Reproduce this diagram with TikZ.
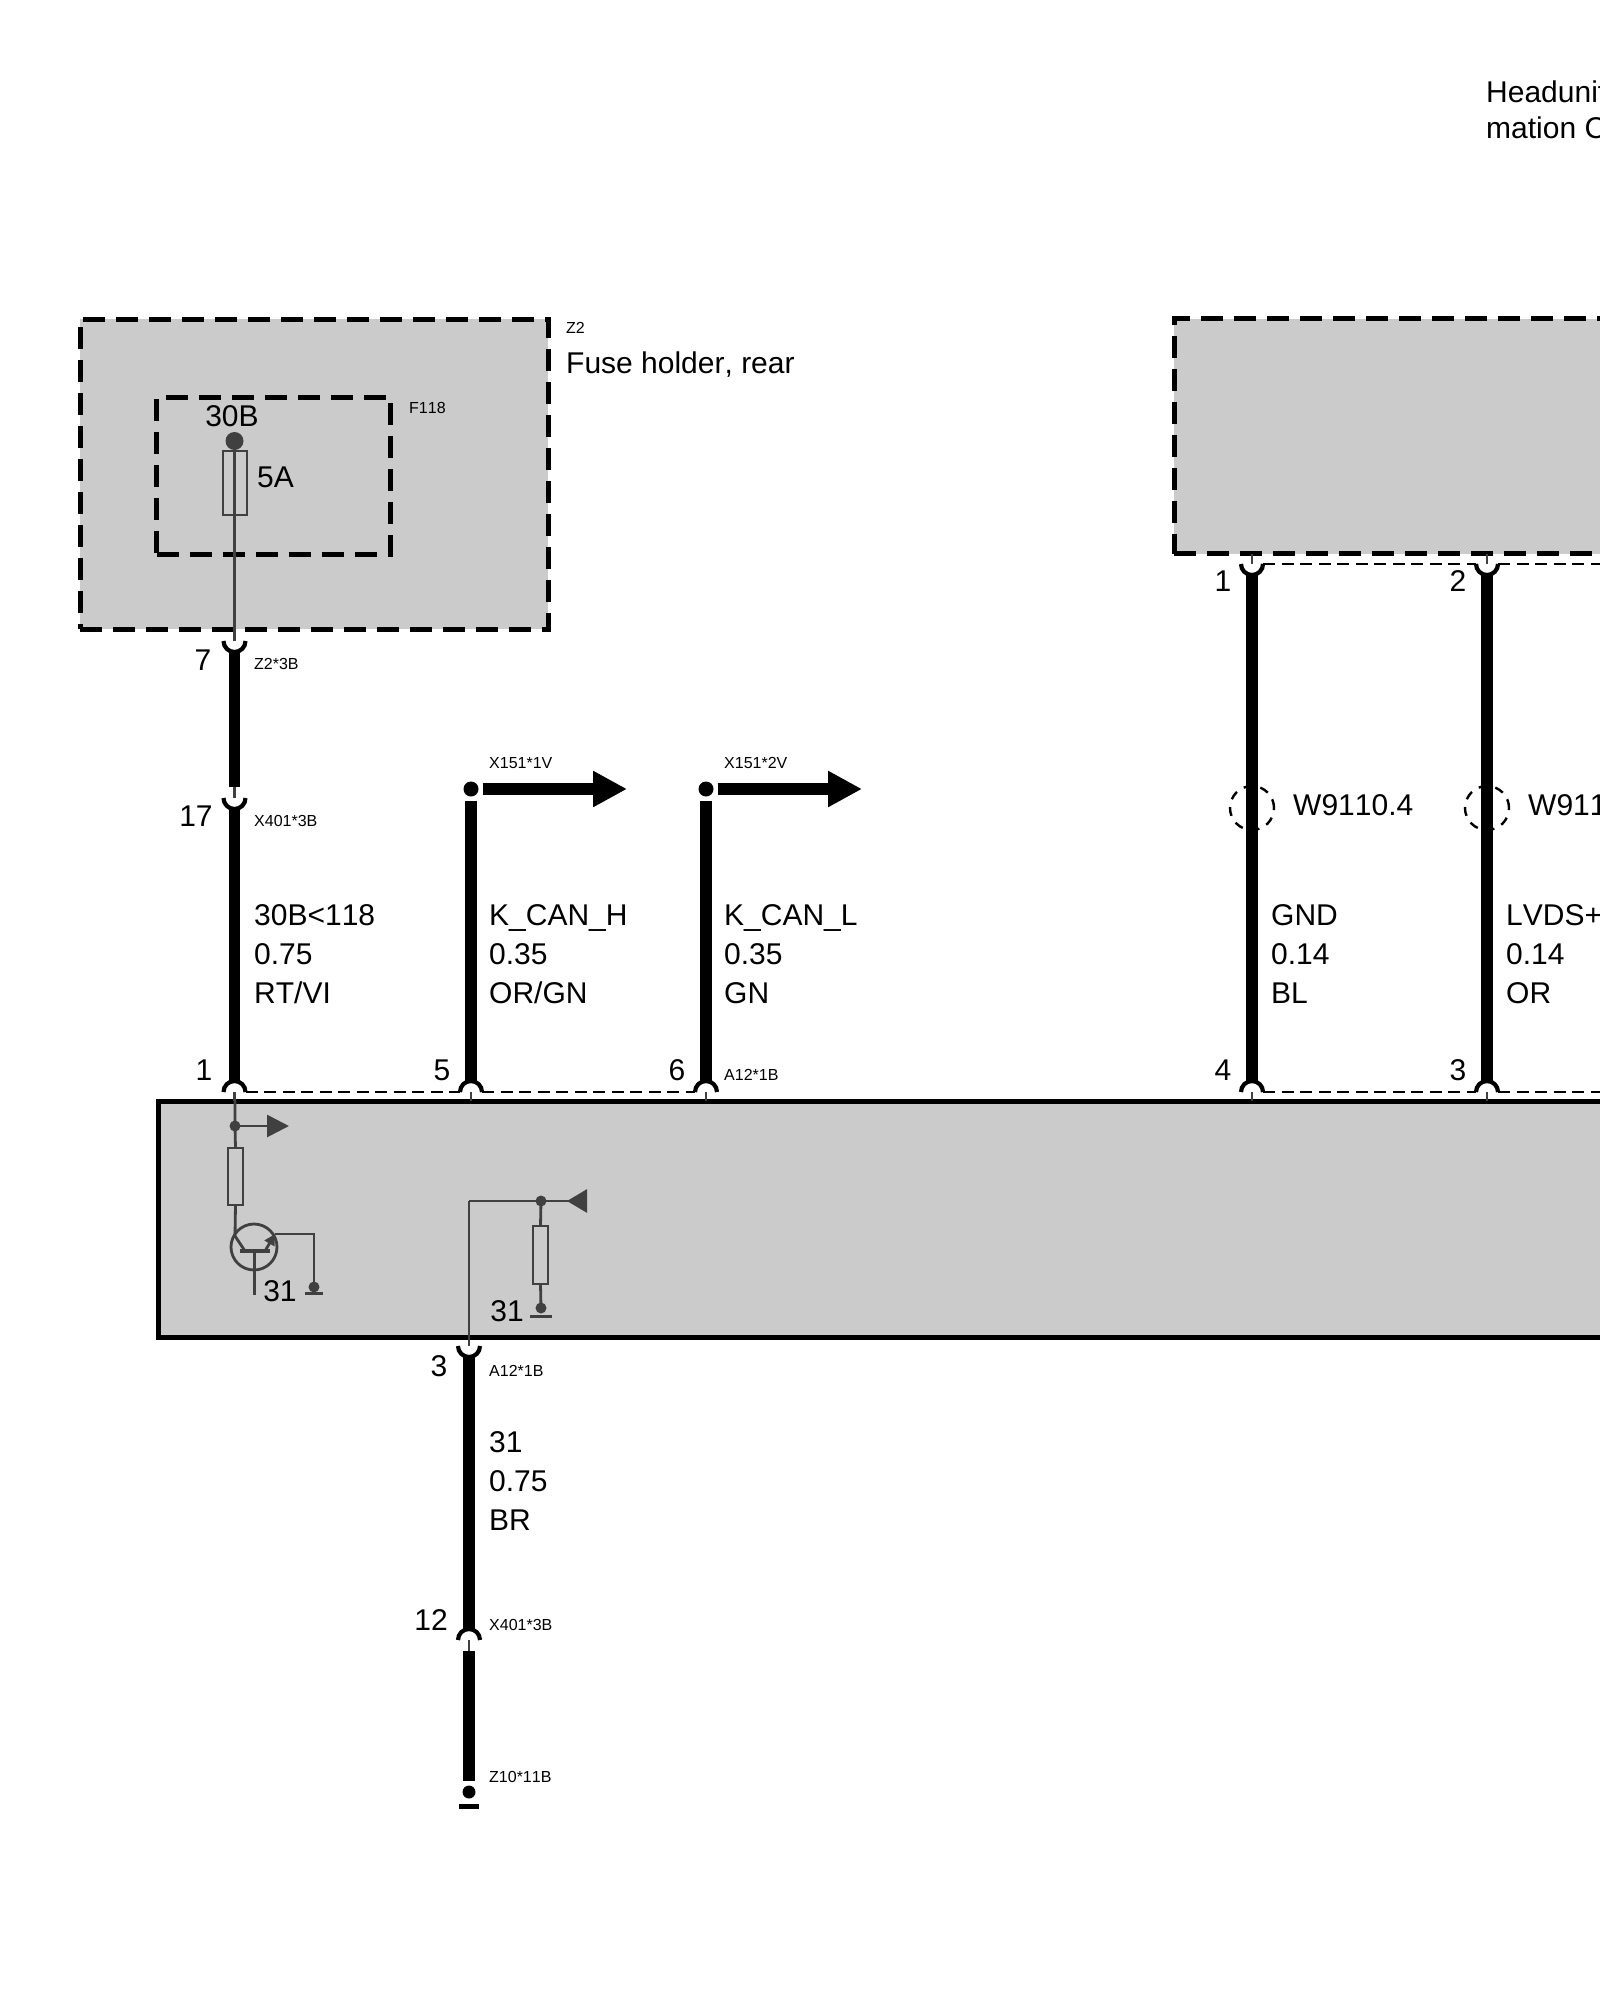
\documentclass[tikz,border=0pt]{standalone}
\usepackage{fontspec}
\setmainfont[Kerning=Off]{Liberation Sans}
\usetikzlibrary{arrows.meta,positioning}
\definecolor{boxgray}{HTML}{CBCBCB}
\definecolor{thingray}{HTML}{404040}
\tikzset{
  solidbox/.style={rectangle,draw=black,fill=boxgray,line width=5pt,inner sep=0pt,outer sep=0pt},
  dashbox/.style={solidbox,dash pattern=on 22pt off 11pt},
  innerbox/.style={rectangle,draw=black,line width=5pt,inner sep=0pt,outer sep=0pt,dash pattern=on 22pt off 11pt},
  part/.style={rectangle,draw=thingray,line width=2.8pt,inner sep=0pt,outer sep=0pt},
  pinnode/.style={circle,minimum size=22pt,inner sep=0pt,outer sep=0pt},
  shield/.style={circle,minimum size=44pt,inner sep=0pt,draw=black,line width=2.4pt,dash pattern=on 9pt off 8pt},
  bigdot/.style={circle,fill=black,minimum size=15pt,inner sep=0pt,outer sep=4pt},
  smalldot/.style={circle,fill=thingray,minimum size=11pt,inner sep=0pt,outer sep=0pt},
  gndbar/.style={rectangle,fill=thingray,minimum height=3pt,inner sep=0pt},
  wire/.style={line width=11.5pt,draw=black},
  thinwire/.style={line width=2.8pt,draw=thingray},
  cup/.style={line width=4.2pt,draw=black},
  bus/.style={line width=2.8pt,draw=black,dash pattern=on 12pt off 6.5pt},
  bigtext/.style={font=\fontsize{30}{39}\selectfont,inner sep=0pt,anchor=base west},
  pintext/.style={font=\fontsize{30}{30}\selectfont,inner sep=0pt,anchor=base},
  tagtext/.style={font=\fontsize{16}{16}\selectfont,inner sep=0pt,anchor=base west},
  sigtext/.style={font=\fontsize{30}{39}\selectfont,inner sep=0pt,anchor=west,align=left}
}
\begin{document}
\begin{tikzpicture}[x=1pt,y=-1pt]
\useasboundingbox (0,0) rectangle (1600,2000);
\clip (0,0) rectangle (1600,2000);
\node[dashbox,minimum width=468pt,minimum height=310pt] (z2) at (314,474) {};
\node[innerbox,minimum width=234pt,minimum height=157pt] (f118) at (273.5,475.5) {};
\node[dashbox,minimum width=600pt,minimum height=235pt,anchor=north west] (headbox) at (1174,318.5) {};
\node[solidbox,minimum width=1600pt,minimum height=236pt,anchor=north west] (ctrl) at (158,1101) {};
\foreach \n/\x/\y in {c7/234.5/641,c17/234.5/798,c3/469/1346,u1/1252/564,u2/1487/564}{
  \node[pinnode] (\n) at (\x,\y) {};
  \draw[cup] (\n.west) arc[start angle=180,end angle=360,radius=11pt];
}
\foreach \n/\x/\y in {c1/234.5/1092,c5/471/1092,c6/706/1092,c4/1252/1092,c2/1487/1092,c12/469/1640}{
  \node[pinnode] (\n) at (\x,\y) {};
  \draw[cup] (\n.west) arc[start angle=180,end angle=0,radius=11pt];
}
\coordinate (busa) at (1600,1092);
\coordinate (busb) at (1600,564);
\draw[bus] (c1.east) -- (c5.west);
\draw[bus] (c5.east) -- (c6.west);
\draw[bus] (c4.east) -- (c2.west);
\draw[bus] (c2.east) -- (busa);
\draw[bus] (u1.east) -- (u2.west);
\draw[bus] (u2.east) -- (busb);
\foreach \n in {c1,c5,c6,c4,c2}
  \draw[thinwire] (\n.center) -- (\n |- ctrl.north);
\foreach \n in {u1,u2}
  \draw[thinwire] (\n.center) -- (\n |- headbox.south);
\node[shield] (s1) at (1252,808) {};
\node[shield] (s2) at (1487,808) {};
% fuse
\node[smalldot,minimum size=18pt] (feed) at (234.5,441) {};
\node[part,minimum width=24pt,minimum height=64pt] (fuse) at (235,483) {};
\draw[thinwire] (feed.center) -- (c7.center);
\draw[thinwire] (c17.north) -- (c17.center);
\draw[wire] (c7.south) -- (c17.north);
\draw[wire] (c17.south) -- (c1.north);
% branch wires
\node[bigdot] (d5) at (471,789) {};
\node[bigdot] (d6) at (706,789) {};
\coordinate (t5) at (627,789);
\coordinate (t6) at (862,789);
\draw[wire] (d5.south) -- (c5.north);
\draw[wire] (d6.south) -- (c6.north);
\draw[wire,-{Triangle[length=34pt,width=34pt]}] (d5.east) -- (t5);
\draw[wire,-{Triangle[length=34pt,width=34pt]}] (d6.east) -- (t6);
\draw[wire] (u1.south) -- (c4.north);
\draw[wire] (u2.south) -- (c2.north);
% ground wire
\node[bigdot,minimum size=13pt,outer sep=5pt] (d10) at (469,1792) {};
\node[rectangle,fill=black,minimum width=20pt,minimum height=5pt,inner sep=0pt] (g10) at (469,1806) {};
\draw[thinwire] (c12.center) -- (c12.south);
\draw[wire] (c3.south) -- (c12.north);
\draw[wire] (c12.south) -- (d10.north);
% transistor stage
\node[smalldot] (j1) at (235,1126) {};
\coordinate (t1) at (289,1126);
\draw[thinwire,-{Triangle[length=22pt,width=22pt]}] (j1.center) -- (t1);
\node[part,minimum width=15pt,minimum height=57pt] (r1) at (235.5,1176.5) {};
\node[part,circle,minimum size=46pt] (tr) at (254,1247) {};
\coordinate (col) at (235,1236);
\coordinate (cole) at (245,1251);
\coordinate (bl) at (240,1251);
\coordinate (br) at (270,1251);
\coordinate (bm) at (254.5,1251);
\coordinate (bend) at (254.5,1295);
\coordinate (em) at (265,1251);
\coordinate (emo) at (275,1234);
\coordinate (eml) at (314,1234);
\node[smalldot] (g1) at (314,1287) {};
\node[gndbar,minimum width=18pt] (b1) at (314,1293) {};
\draw[thinwire] (ctrl.north -| j1) -- (j1.center) -- (r1.north);
\draw[thinwire] (r1.south) -- (col) -- (cole);
\draw[thinwire,line width=3.4pt] (bl) -- (br);
\draw[thinwire] (bm) -- (bend);
\draw[thinwire,-{Triangle[length=11pt,width=11pt]}] (em) -- (emo);
\draw[thinwire] (emo) -- (eml) -- (g1.center);
% input stage
\coordinate (cor) at (469,1201);
\coordinate (t2) at (587,1201);
\node[smalldot] (j2) at (541,1201) {};
\node[part,minimum width=15pt,minimum height=58pt] (r2) at (540.5,1255) {};
\node[smalldot] (g2) at (541,1308) {};
\node[gndbar,minimum width=22pt] (b2) at (541,1316) {};
\draw[thinwire] (c3.center) -- (cor);
\draw[thinwire,-{Triangle[reversed,length=20pt,width=23pt]}] (cor) -- (t2);
\draw[thinwire] (j2.center) -- (r2.north);
\draw[thinwire] (r2.south) -- (g2.center);
% texts
\node[bigtext] (hd1) at (1486,102) {Headunit};
\node[bigtext] (hd2) at (1486,138) {mation C};
\node[tagtext] (tz2) at (566,333) {Z2};
\node[bigtext] (tfh) at (566,373) {Fuse holder, rear};
\node[tagtext] (tf) at (409,413) {F118};
\node[pintext] (t30) at (232,426) {30B};
\node[bigtext] (t5a) at (257,487) {5A};
\node[pintext] (p7) at (203,670) {7};
\node[pintext] (p17) at (196,826) {17};
\node[pintext] (p1) at (204,1080) {1};
\node[pintext] (p5) at (442,1080) {5};
\node[pintext] (p6) at (677,1080) {6};
\node[pintext] (p4) at (1223,1080) {4};
\node[pintext] (p3) at (1458,1080) {3};
\node[pintext] (pu1) at (1223,591) {1};
\node[pintext] (pu2) at (1458,591) {2};
\node[pintext] (pb3) at (439,1376) {3};
\node[pintext] (p12) at (431,1630) {12};
\node[pintext] (t31a) at (280,1301) {31};
\node[pintext] (t31b) at (507,1321) {31};
\node[tagtext] (tc1) at (254,669) {Z2*3B};
\node[tagtext] (tc2) at (254,826) {X401*3B};
\node[tagtext] (tc3) at (489,768) {X151*1V};
\node[tagtext] (tc4) at (724,768) {X151*2V};
\node[tagtext] (tc5) at (724,1080) {A12*1B};
\node[tagtext] (tc6) at (489,1376) {A12*1B};
\node[tagtext] (tc7) at (489,1630) {X401*3B};
\node[tagtext] (tc8) at (489,1782) {Z10*11B};
\node[bigtext] (ts1) at (1293,815) {W9110.4};
\node[bigtext] (ts2) at (1528,815) {W911};
\node[sigtext] (sg1) at (254,954) {30B<118\\0.75\\RT/VI};
\node[sigtext] (sg2) at (489,954) {K\_CAN\_H\\0.35\\OR/GN};
\node[sigtext] (sg3) at (724,954) {K\_CAN\_L\\0.35\\GN};
\node[sigtext] (sg4) at (1271,954) {GND\\0.14\\BL};
\node[sigtext] (sg5) at (1506,954) {LVDS+\\0.14\\OR};
\node[sigtext] (sg6) at (489,1481.5) {31\\0.75\\BR};
\end{tikzpicture}
\end{document}
